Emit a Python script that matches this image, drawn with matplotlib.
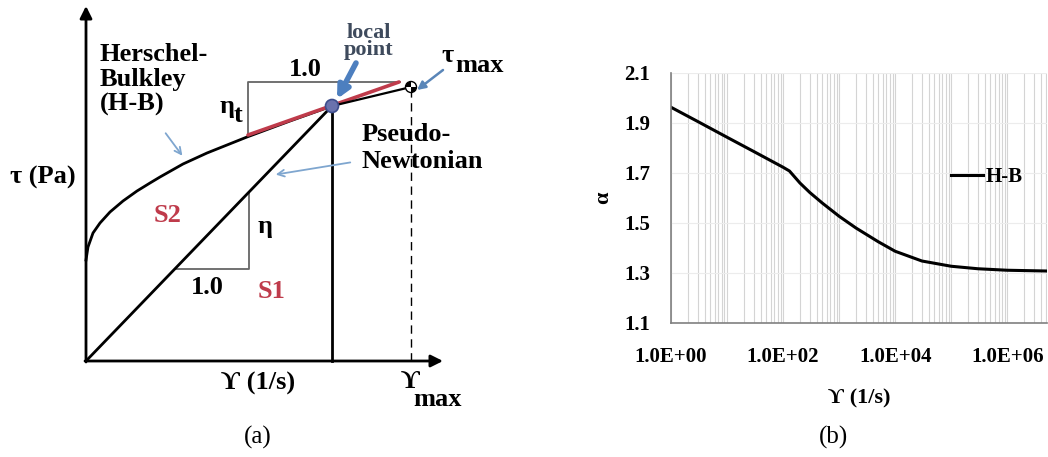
import matplotlib
matplotlib.use("Agg")
import matplotlib.pyplot as plt
from matplotlib.patches import Circle, Wedge
from matplotlib.ticker import FixedLocator, LogLocator, NullFormatter

plt.rcParams["font.family"] = ["Liberation Serif", "DejaVu Serif"]
plt.rcParams["font.weight"] = "bold"
plt.rcParams["axes.labelweight"] = "bold"

# ---- panel (a): schematic, diagram units = pixels from the origin ----
hb_gamma = [0, 2, 7, 14, 24, 37, 51, 64, 74, 97, 121, 141, 161, 204, 246]
hb_tau = [101, 114, 128, 138, 149, 160, 170, 178, 184, 197, 208, 216, 224, 240, 255]
local_point = (246, 255)
tau_max_point = (325, 274)
tangent_start = (162, 226)
tangent_end = (313, 279)
upper_box_x = [162, 162, 314]
upper_box_y = [226, 279, 279]
lower_box_x = [89, 163, 163]
lower_box_y = [92, 92, 169]

# ---- panel (b): alpha vs shear rate ----
shear_rate = [1, 3, 10, 30, 100, 130, 200, 300, 500, 1000, 2000, 5000,
              1e4, 3e4, 1e5, 3e5, 1e6, 5e6]
alpha = [1.963, 1.906, 1.843, 1.786, 1.723, 1.708, 1.660, 1.622, 1.580,
         1.527, 1.480, 1.425, 1.387, 1.348, 1.327, 1.317, 1.311, 1.308]
y_ticks = [1.1, 1.3, 1.5, 1.7, 1.9, 2.1]
x_ticks = [1, 1e2, 1e4, 1e6]
x_tick_labels = ["1.0E+00", "1.0E+02", "1.0E+04", "1.0E+06"]

RED = "#bf3b4b"
BLUE = "#7fa6cf"
BOX = "#666666"

fig = plt.figure(figsize=(10.48, 4.57), dpi=100)

ax = fig.add_axes([0, 0, 500 / 1048, 1])
ax.set_xlim(-86, 414)
ax.set_ylim(-96, 361)
ax.axis("off")

# axes arrows
ax.annotate("", xy=(0, 355), xytext=(0, -1),
            arrowprops=dict(arrowstyle="-|>", color="black", lw=2,
                            mutation_scale=18, shrinkA=0, shrinkB=0))
ax.annotate("", xy=(357, 0), xytext=(-1, 0),
            arrowprops=dict(arrowstyle="-|>", color="black", lw=2,
                            mutation_scale=18, shrinkA=0, shrinkB=0))

# slope boxes
ax.plot(upper_box_x, upper_box_y, color=BOX, lw=1.3)
ax.plot(lower_box_x, lower_box_y, color=BOX, lw=1.3)

# curves
ax.plot(hb_gamma, hb_tau, color="black", lw=2, solid_joinstyle="round")
ax.plot([0, local_point[0]], [0, local_point[1]], color="black", lw=2)
ax.plot([local_point[0], local_point[0]], [0, local_point[1]], color="black", lw=2)
ax.plot([tau_max_point[0], tau_max_point[0]], [0, tau_max_point[1]],
        color="black", lw=1, ls=(0, (6, 4)))
ax.plot([tangent_start[0], tangent_end[0]], [tangent_start[1], tangent_end[1]],
        color=RED, lw=2.6, solid_capstyle="round")
ax.plot([local_point[0], tau_max_point[0]], [local_point[1], tau_max_point[1]],
        color="black", lw=1.6)

ax.add_patch(Circle(local_point, 6.5, facecolor="#6a72ad", edgecolor="#3d4d8c",
                    lw=1.2, zorder=5))
ax.add_patch(Circle(tau_max_point, 5.5, facecolor="white", edgecolor="black",
                    lw=1, zorder=5))
ax.add_patch(Wedge(tau_max_point, 5.5, 90, 180, facecolor="black", zorder=6))
ax.add_patch(Wedge(tau_max_point, 5.5, 270, 360, facecolor="black", zorder=6))

# pointer arrows
ax.annotate("", xy=(98, 203), xytext=(78, 230),
            arrowprops=dict(arrowstyle="->", color=BLUE, lw=1.3, mutation_scale=12))
ax.annotate("", xy=(187, 186), xytext=(267, 199),
            arrowprops=dict(arrowstyle="->", color=BLUE, lw=1.3, mutation_scale=12))
ax.annotate("", xy=(331, 271), xytext=(357, 291),
            arrowprops=dict(arrowstyle="-|>", color="#5a86b8", lw=1.8,
                            mutation_scale=12, shrinkA=0, shrinkB=0))
ax.annotate("", xy=(251, 262), xytext=(270, 298),
            arrowprops=dict(arrowstyle="-|>", color="#4d7fbf", lw=4,
                            mutation_scale=18, shrinkA=0, shrinkB=0))

# labels
fs = 19
ax.text(14, 318, "Herschel-\nBulkley\n(H-B)", fontsize=fs, ha="left", va="top",
        linespacing=1.1)
ax.text(-76, 184, "τ (Pa)", fontsize=fs, ha="left", va="center")
ax.text(283, 320, "local\npoint", fontsize=16, ha="center", va="center",
        color="#3e4a5c", linespacing=0.8)
ax.text(219, 291, "1.0", fontsize=fs, ha="center", va="center")
ax.text(141, 254, "η", fontsize=fs, ha="center", va="center")
ax.text(152, 245, "t", fontsize=fs, ha="center", va="center")
ax.text(355, 305, "τ", fontsize=fs, ha="left", va="center")
ax.text(369, 295, "max", fontsize=fs, ha="left", va="center")
ax.text(276, 213, "Pseudo-\nNewtonian", fontsize=fs, ha="left", va="center",
        linespacing=1.2)
ax.text(82, 145, "S2", fontsize=fs, ha="center", va="center", color=RED)
ax.text(179, 135, "η", fontsize=fs, ha="center", va="center")
ax.text(121, 74, "1.0", fontsize=fs, ha="center", va="center")
ax.text(186, 70, "S1", fontsize=fs, ha="center", va="center", color=RED)
ax.text(172, -22, "ϒ (1/s)", fontsize=fs, ha="center", va="center")
ax.text(324, -20, "ϒ", fontsize=fs, ha="center", va="center")
ax.text(352, -39, "max", fontsize=fs, ha="center", va="center")
ax.text(172, -76, "(a)", fontsize=18, ha="center", va="center", fontweight="normal")

# ---- panel (b) ----
axb = fig.add_axes([671 / 1048, (457 - 323) / 457, 376 / 1048, 250 / 457])
axb.plot(shear_rate, alpha, color="black", lw=2.2, label="H-B")
axb.set_xscale("log")
axb.set_xlim(1, 10 ** 6.71)
axb.set_ylim(1.1, 2.1)
axb.xaxis.set_major_locator(FixedLocator(x_ticks))
axb.set_xticklabels(x_tick_labels)
axb.xaxis.set_minor_locator(LogLocator(base=10, subs=range(1, 10), numticks=20))
axb.xaxis.set_minor_formatter(NullFormatter())
axb.set_yticks(y_ticks)
axb.set_yticklabels([f"{v:.1f}" for v in y_ticks])
axb.grid(True, which="both", axis="x", color="#d4d4d4", lw=0.8)
axb.grid(True, which="major", axis="y", color="#ececec", lw=0.8)
axb.set_axisbelow(True)
for side in ["top", "right"]:
    axb.spines[side].set_visible(False)
for side in ["left", "bottom"]:
    axb.spines[side].set_color("#808080")
    axb.spines[side].set_linewidth(1.2)
axb.tick_params(which="both", length=0)
axb.tick_params(axis="x", pad=17, labelsize=15)
axb.tick_params(axis="y", pad=15, labelsize=15)
axb.set_xlabel("ϒ (1/s)", fontsize=16, labelpad=16)
axb.set_ylabel("α", fontsize=16, labelpad=8)
axb.legend(loc="center left", bbox_to_anchor=(0.745, 0.584), frameon=False,
           fontsize=15, handlelength=1.55, handletextpad=0.1, borderpad=0,
           borderaxespad=0)

fig.text(833 / 1048, 1 - 437 / 457, "(b)", fontsize=18, ha="center", va="center",
         fontweight="normal")

fig.savefig("out.png", dpi=100)
